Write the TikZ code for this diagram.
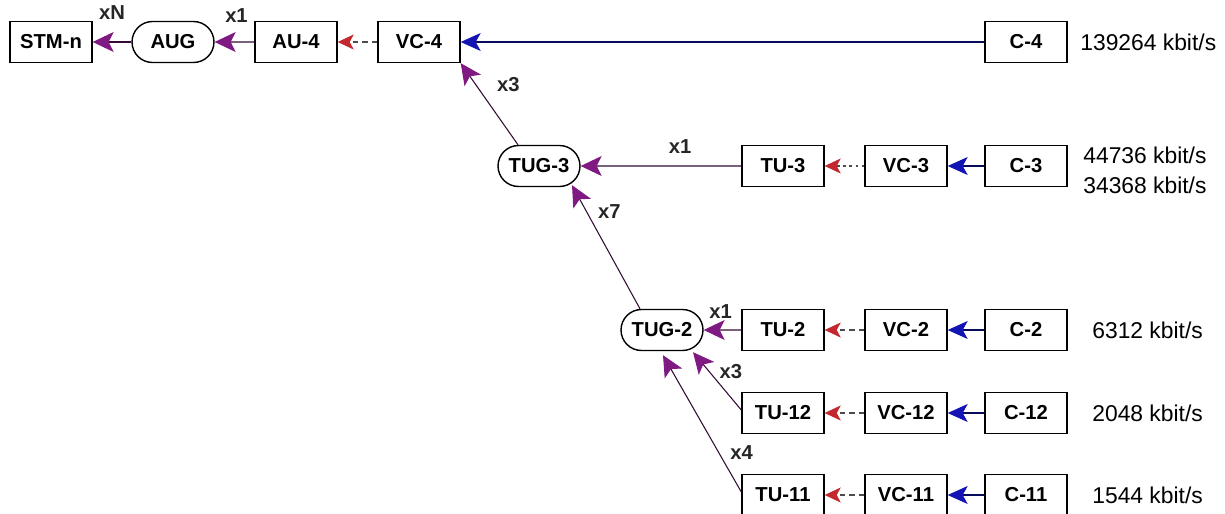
\documentclass[tikz,border=0pt]{standalone}
\usepackage{fontspec}
\setmainfont{Liberation Sans}
\usetikzlibrary{arrows.meta,calc,shapes.misc}
\definecolor{muxCol}{HTML}{7E1A82}
\definecolor{mapCol}{HTML}{C2282E}
\definecolor{alnCol}{HTML}{1414B4}
\tikzset{
  unit/.style={draw, line width=0.8pt, minimum width=1.64cm, minimum height=0.82cm, inner sep=0pt,
               font=\fontsize{11.5}{13}\selectfont\bfseries},
  grp/.style={unit, rounded rectangle, rounded rectangle arc length=180},
  mux/.style={-{Stealth[length=0.42cm,width=0.4cm,inset=0.1cm,color=muxCol]}, line width=0.6pt, muxCol!40!black}, % multiplexing
  map/.style={-{Stealth[length=0.32cm,width=0.3cm,inset=0.08cm,color=mapCol]}, line width=0.6pt, gray!60!black,
              dash pattern=on 3pt off 2.5pt},                                                                   % mapping / pointer
  aln/.style={-{Stealth[length=0.4cm,width=0.36cm,inset=0.1cm,color=alnCol]}, line width=0.6pt, alnCol!50!black}, % aligning
  cnt/.style={font=\fontsize{11.5}{13}\selectfont\bfseries, inner sep=1pt, text=black!85},
  rate/.style={anchor=west, inner sep=0pt, align=left, font=\fontsize{13}{17}\selectfont},
}

\begin{document}
\begin{tikzpicture}[x=0.02cm,y=-0.02cm]
  \useasboundingbox (0,0) rectangle (1225,514);
  \def\xTU{783}\def\xVC{906}\def\xC{1026}\def\xR{1092}
  \def\yA{42}\def\yB{166}\def\yC{330}\def\yD{413}\def\yE{495}

  % AU-4 path
  \node[unit] (stm)  at (51,\yA)    {STM-n};
  \node[grp]  (aug)  at (173,\yA)   {AUG};
  \node[unit] (au4)  at (296,\yA)   {AU-4};
  \node[unit] (vc4)  at (419,\yA)   {VC-4};
  \node[unit] (c4)   at (\xC,\yA)   {C-4};
  \node[rate] (r4)   at (1080,\yA)  {139264 kbit/s};

  % TU-3 path
  \node[grp]  (tug3) at (539,\yB)   {TUG-3};
  \node[unit] (tu3)  at (\xTU,\yB)  {TU-3};
  \node[unit] (vc3)  at (\xVC,\yB)  {VC-3};
  \node[unit] (c3)   at (\xC,\yB)   {C-3};
  \node[rate] (r3)   at (1083,170)  {44736 kbit/s\\34368 kbit/s};

  % TU-2 / TU-12 / TU-11 paths
  \node[grp]  (tug2) at (662,\yC)   {TUG-2};
  \node[unit] (tu2)  at (\xTU,\yC)  {TU-2};
  \node[unit] (vc2)  at (\xVC,\yC)  {VC-2};
  \node[unit] (c2)   at (\xC,\yC)   {C-2};
  \node[rate] (r2)   at (\xR,\yC)   {6312 kbit/s};
  \node[unit] (tu12) at (\xTU,\yD)  {TU-12};
  \node[unit] (vc12) at (\xVC,\yD)  {VC-12};
  \node[unit] (c12)  at (\xC,\yD)   {C-12};
  \node[rate] (r12)  at (\xR,\yD)   {2048 kbit/s};
  \node[unit] (tu11) at (\xTU,\yE)  {TU-11};
  \node[unit] (vc11) at (\xVC,\yE)  {VC-11};
  \node[unit] (c11)  at (\xC,\yE)   {C-11};
  \node[rate] (r11)  at (\xR,\yE)   {1544 kbit/s};

  \draw[mux] (aug) -- (stm) node[cnt, midway, shift={(0,-29)}] (lxN) {xN};
  \draw[mux] (au4) -- (aug) node[cnt, midway, shift={(2,-26)}] (lx1a) {x1};
  \draw[map] (vc4) -- (au4);
  \draw[aln] (c4) -- (vc4);

  \draw[mux] ($(tug3.north)+(-21,0)$) -- (vc4.south east) node[cnt, midway, shift={(19,-19)}] (lx3a) {x3};
  \draw[mux] (tu3) -- (tug3) node[cnt, midway, shift={(19,-19)}] (lx1b) {x1};
  \draw[map, dash pattern=on 1.5pt off 2pt] (vc3) -- (tu3);
  \draw[aln] (c3) -- (vc3);

  \draw[mux] ($(tug2.north)+(-22,0)$) -- ($(tug3.south)+(33,-2)$) node[cnt, pos=0.79, shift={(23,0)}] (lx7) {x7};
  \draw[mux] (tu2) -- (tug2) node[cnt, midway, shift={(-2,-18)}] (lx1c) {x1};
  \draw[map] (vc2) -- (tu2);
  \draw[aln] (c2) -- (vc2);

  \draw[mux] ($(tu12.west)+(0,-3)$) -- ($(tug2.south)+(31,1)$) node[cnt, pos=0.67, shift={(22,0)}] (lx3b) {x3};
  \draw[map] (vc12) -- (tu12);
  \draw[aln] (c12) -- (vc12);

  \draw[mux] ($(tu11.west)+(0,-3)$) -- ($(tug2.south)+(1,4)$) node[cnt, pos=0.29, shift={(23,0)}] (lx4) {x4};
  \draw[map] (vc11) -- (tu11);
  \draw[aln] (c11) -- (vc11);
\end{tikzpicture}
\end{document}
